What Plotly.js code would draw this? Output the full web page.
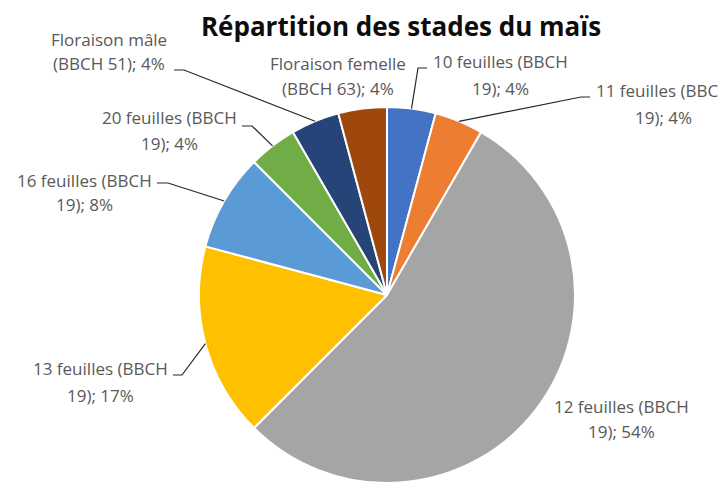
<!DOCTYPE html>
<html>
<head>
<meta charset="utf-8">
<script src="https://cdn.plot.ly/plotly-3.0.1.min.js"></script>
<style>
  html, body { margin: 0; padding: 0; background: #ffffff; }
  #chart { width: 718px; height: 483px; }
</style>
</head>
<body>
<div id="chart"></div>
<script>
// ---- Data ----
const categories = [
  "10 feuilles (BBCH 19)",
  "11 feuilles (BBCH 19)",
  "12 feuilles (BBCH 19)",
  "13 feuilles (BBCH 19)",
  "16 feuilles (BBCH 19)",
  "20 feuilles (BBCH 19)",
  "Floraison mâle (BBCH 51)",
  "Floraison femelle (BBCH 63)"
];
const counts = [1, 1, 13, 4, 2, 1, 1, 1];
const labelLine1 = [
  "10 feuilles (BBCH", "11 feuilles (BBCH", "12 feuilles (BBCH", "13 feuilles (BBCH",
  "16 feuilles (BBCH", "20 feuilles (BBCH", "Floraison mâle", "Floraison femelle"
];
const labelLine2Prefix = [
  "19)", "19)", "19)", "19)", "19)", "19)", "(BBCH 51)", "(BBCH 63)"
];
const colors = ["#4472C4", "#ED7D31", "#A5A5A5", "#FFC000", "#5B9BD5", "#70AD47", "#264478", "#9E480E"];

// ---- Layout geometry (pixels) ----
const W = 718, H = 483;
const cx = 387, cy = 295, R = 188;
// label centers: [x, y line1, y line2]
const labelPos = [
  [500, 62, 88],
  [663, 91, 117],
  [621, 406, 431],
  [100, 368, 395],
  [84, 180, 205],
  [169, 117, 143],
  [109, 40, 63],
  [338, 63, 88]
];
// leader lines: [startX, startY, elbowX] or null
const leaders = [
  [427, 68, 418],
  [590, 97, 581],
  null,
  [173, 375, 182],
  [157, 183, 168],
  [242, 126, 252],
  [174, 70, 184],
  null
];

const px = x => x / W;
const py = y => 1 - y / H;

const total = counts.reduce((a, b) => a + b, 0);
const annotations = [];
const shapes = [];
const labelFont = {family: "'Open Sans', sans-serif", size: 17, color: "#595959"};
let cum = 0;
counts.forEach((v, i) => {
  const pct = Math.round(v / total * 100);
  const midAngle = (cum + v / 2) / total * 2 * Math.PI;
  cum += v;
  const [lx, y1, y2] = labelPos[i];
  annotations.push({xref: "paper", yref: "paper", x: px(lx), y: py(y1), text: labelLine1[i],
    showarrow: false, xanchor: "center", yanchor: "middle", font: labelFont});
  annotations.push({xref: "paper", yref: "paper", x: px(lx), y: py(y2), text: labelLine2Prefix[i] + "; " + pct + "%",
    showarrow: false, xanchor: "center", yanchor: "middle", font: labelFont});
  const ld = leaders[i];
  if (ld) {
    const ex = cx + R * Math.sin(midAngle);
    const ey = cy - R * Math.cos(midAngle);
    const path = "M " + px(ld[0]) + " " + py(ld[1]) + " L " + px(ld[2]) + " " + py(ld[1]) +
                 " L " + px(ex) + " " + py(ey);
    shapes.push({type: "path", xref: "paper", yref: "paper", path: path,
      line: {color: "#262626", width: 1.2}});
  }
});

const trace = {
  type: "pie",
  labels: categories,
  values: counts,
  sort: false,
  direction: "clockwise",
  rotation: 0,
  textinfo: "none",
  hoverinfo: "label+percent",
  marker: {colors: colors, line: {color: "#ffffff", width: 2}},
  domain: {x: [px(cx - R), px(cx + R)], y: [py(cy + R), py(cy - R)]},
  showlegend: false
};

const layout = {
  width: W, height: H,
  margin: {l: 0, r: 0, t: 0, b: 0},
  paper_bgcolor: "#ffffff",
  showlegend: false,
  title: {
    text: "<b>Répartition des stades du maïs</b>",
    x: px(401), xanchor: "center", xref: "paper",
    y: py(27), yanchor: "middle", yref: "paper",
    font: {family: "'Open Sans', sans-serif", size: 26, color: "#0d0d0d"}
  },
  annotations: annotations,
  shapes: shapes
};

Plotly.newPlot("chart", [trace], layout, {displayModeBar: false, staticPlot: true});
</script>
</body>
</html>
